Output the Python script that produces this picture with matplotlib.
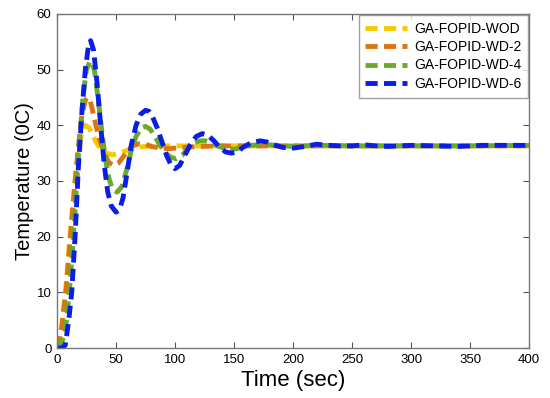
import matplotlib
matplotlib.use("Agg")
import matplotlib.pyplot as plt

plt.rcParams['font.family'] = ['Liberation Sans', 'DejaVu Sans']

# ---- data ----
t_wod = [0, 2, 4, 8, 11, 15, 18, 21, 24, 27, 30, 33, 37, 42, 47, 52, 57, 63, 70, 80, 100, 150, 200, 250, 300, 350, 400]
T_wod = [0, 1.5, 4, 12, 20, 29.6, 35, 38.5, 40, 39.6, 38.5, 37, 35.8, 35, 34.7, 34.9, 35.3, 35.8, 36.1, 36.3, 36.3, 36.3, 36.3, 36.3, 36.3, 36.3, 36.3]

t_wd2 = [0, 2, 4, 8, 11, 15, 18, 21, 24, 26, 28, 30, 33, 36, 40, 44, 48, 52, 56, 60, 65, 70, 75, 80, 88, 95, 105, 120, 140, 200, 250, 300, 350, 400]
T_wd2 = [0, 1.2, 3.5, 11, 19, 29, 36, 41.5, 44.5, 45, 44.5, 42.8, 40, 37.5, 35, 33.3, 32.8, 33.2, 34.3, 35.5, 36.4, 36.7, 36.6, 36.2, 35.9, 35.8, 36.0, 36.2, 36.3, 36.3, 36.3, 36.3, 36.3, 36.3]

t_wd4 = [0, 4, 7, 10, 13, 16, 19, 22, 25, 28, 30, 32, 35, 38, 41, 44, 47, 51, 55, 59, 63, 67, 71, 75, 79, 83, 87, 92, 97, 101, 106, 111, 116, 121, 126, 131, 137, 143, 150, 157, 165, 175, 185, 200, 220, 250, 300, 350, 400]
T_wd4 = [0, 1, 3, 9, 17, 27, 37, 45, 50, 51.5, 51.2, 49.5, 44.5, 39, 34, 30.5, 28.5, 28, 29, 32, 35.5, 38, 39.5, 39.8, 39.3, 38, 36.5, 35, 34.2, 34, 34.6, 35.8, 36.8, 37.2, 37.2, 36.8, 36.2, 35.8, 35.7, 36, 36.4, 36.6, 36.4, 36.2, 36.4, 36.3, 36.3, 36.3, 36.4]

t_wd6 = [0, 4, 7, 10, 12.5, 15.5, 18, 21, 24, 26.5, 28.5, 31, 34, 37, 40, 43, 46, 50, 53, 56, 59, 63, 67, 71, 75, 78, 81, 85, 89, 93, 97, 100, 104, 108, 113, 118, 123, 128, 133, 138, 143, 148, 153, 158, 165, 172, 178, 185, 192, 200, 210, 220, 230, 240, 250, 260, 270, 280, 300, 320, 340, 360, 380, 400]
T_wd6 = [0, 0, 0.5, 5, 10, 20.6, 32, 42, 50, 54, 55.2, 53.5, 47.5, 40, 33, 28, 25.5, 24.4, 24.8, 27, 31, 36.5, 40, 42, 42.7, 42.5, 41.5, 39.5, 37, 34.5, 32.7, 32.2, 32.8, 34.5, 36.5, 38, 38.5, 38.2, 37.2, 36, 35.2, 35, 35.3, 36.1, 36.9, 37.2, 37, 36.4, 36, 35.9, 36.2, 36.6, 36.4, 36.3, 36.3, 36.5, 36.3, 36.2, 36.4, 36.3, 36.2, 36.4, 36.4, 36.4]

labels = ['GA-FOPID-WOD', 'GA-FOPID-WD-2', 'GA-FOPID-WD-4', 'GA-FOPID-WD-6']
colors = ['#F5CB00', '#DC7410', '#6CAA2C', '#0A1EE8']
x_ticks = [0, 50, 100, 150, 200, 250, 300, 350, 400]
y_ticks = [0, 10, 20, 30, 40, 50, 60]

fig = plt.figure(figsize=(5.5, 3.98), dpi=100)
ax = fig.add_axes([0.1036, 0.1256, 0.8584, 0.8394])

series = [(t_wod, T_wod), (t_wd2, T_wd2), (t_wd4, T_wd4), (t_wd6, T_wd6)]
for (t, T), lab, c in zip(series, labels, colors):
    ax.plot(t, T, color=c, lw=3.5, linestyle=(0, (2.5, 1.3)), label=lab,
            solid_joinstyle='round', dash_capstyle='butt')

ax.set_xlim(0, 400)
ax.set_ylim(0, 60)
ax.set_xticks(x_ticks)
ax.set_yticks(y_ticks)
ax.tick_params(direction='in', top=True, right=True, length=4, width=0.8,
               labelsize=9.5, colors='#555555', labelcolor='black', pad=4)
for s in ax.spines.values():
    s.set_color('#777777')
    s.set_linewidth(1.0)

ax.set_xlabel('Time (sec)', fontsize=16, labelpad=3)
ax.set_ylabel('Temperature (0C)', fontsize=14.5, labelpad=2)

leg = ax.legend(loc='upper right', fontsize=10, handlelength=3.0, frameon=True,
                fancybox=False, borderaxespad=0.05, borderpad=0.5,
                labelspacing=0.32, handletextpad=0.5)
leg.get_frame().set_edgecolor('#888888')
leg.get_frame().set_linewidth(1.0)

fig.savefig('out.png', dpi=100)
